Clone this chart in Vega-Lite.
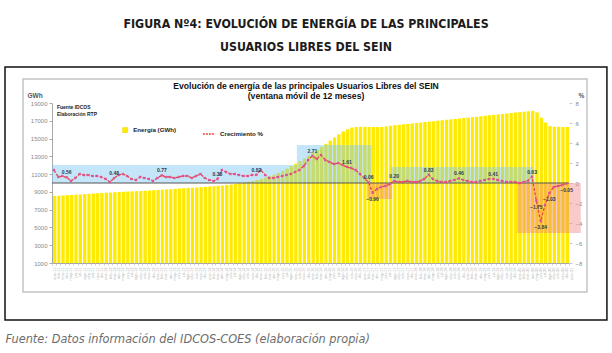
{
  "$schema": "https://vega.github.io/schema/vega-lite/v6.json",
  "width": 517,
  "height": 160,
  "autosize": {"type": "none"},
  "padding": {"left": 52, "top": 103, "right": 43, "bottom": 90},
  "background": "white",
  "title": {
    "text": ["FIGURA Nº4: EVOLUCIÓN DE ENERGÍA DE LAS PRINCIPALES", "USUARIOS LIBRES DEL SEIN"],
    "subtitle": ["Evolución de energía de las principales Usuarios Libres del SEIN", "(ventana móvil de 12 meses)"],
    "anchor": "middle",
    "frame": "group",
    "dx": -4.5,
    "offset": -34,
    "font": "'DejaVu Sans Condensed', 'Liberation Sans', sans-serif",
    "fontSize": 12.3,
    "fontWeight": "bold",
    "color": "#1b1b1b",
    "lineHeight": 23,
    "subtitleFont": "Liberation Sans",
    "subtitleFontSize": 8.6,
    "subtitleFontWeight": "bold",
    "subtitleColor": "#111111",
    "subtitleLineHeight": 9.5,
    "subtitlePadding": 29
  },
  "config": {
    "view": {"stroke": null},
    "font": "Liberation Sans"
  },
  "datasets": {
    "serie": [
      {"fecha": "2011-01-15", "energia": 8540, "crecimiento": 1.3},
      {"fecha": "2011-02-15", "energia": 8570, "crecimiento": 0.6},
      {"fecha": "2011-03-15", "energia": 8600, "crecimiento": 0.7},
      {"fecha": "2011-04-15", "energia": 8630, "crecimiento": 0.56},
      {"fecha": "2011-05-15", "energia": 8660, "crecimiento": 0.2},
      {"fecha": "2011-06-15", "energia": 8690, "crecimiento": 0.5},
      {"fecha": "2011-07-15", "energia": 8720, "crecimiento": 0.9},
      {"fecha": "2011-08-15", "energia": 8750, "crecimiento": 0.8},
      {"fecha": "2011-09-15", "energia": 8780, "crecimiento": 0.8},
      {"fecha": "2011-10-15", "energia": 8810, "crecimiento": 0.7},
      {"fecha": "2011-11-15", "energia": 8850, "crecimiento": 0.7},
      {"fecha": "2011-12-15", "energia": 8880, "crecimiento": 0.6},
      {"fecha": "2012-01-15", "energia": 8910, "crecimiento": 0.4},
      {"fecha": "2012-02-15", "energia": 8930, "crecimiento": 0.1},
      {"fecha": "2012-03-15", "energia": 8960, "crecimiento": 0.48},
      {"fecha": "2012-04-15", "energia": 8990, "crecimiento": 0.8},
      {"fecha": "2012-05-15", "energia": 9010, "crecimiento": 0.9},
      {"fecha": "2012-06-15", "energia": 9040, "crecimiento": 0.7},
      {"fecha": "2012-07-15", "energia": 9060, "crecimiento": 0.4},
      {"fecha": "2012-08-15", "energia": 9080, "crecimiento": 0.3},
      {"fecha": "2012-09-15", "energia": 9100, "crecimiento": 0.6},
      {"fecha": "2012-10-15", "energia": 9130, "crecimiento": 0.5},
      {"fecha": "2012-11-15", "energia": 9160, "crecimiento": 0.4},
      {"fecha": "2012-12-15", "energia": 9190, "crecimiento": 0.2},
      {"fecha": "2013-01-15", "energia": 9220, "crecimiento": 0.5},
      {"fecha": "2013-02-15", "energia": 9250, "crecimiento": 0.77},
      {"fecha": "2013-03-15", "energia": 9280, "crecimiento": 0.6},
      {"fecha": "2013-04-15", "energia": 9310, "crecimiento": 0.6},
      {"fecha": "2013-05-15", "energia": 9340, "crecimiento": 0.5},
      {"fecha": "2013-06-15", "energia": 9380, "crecimiento": 0.6},
      {"fecha": "2013-07-15", "energia": 9420, "crecimiento": 0.7},
      {"fecha": "2013-08-15", "energia": 9450, "crecimiento": 0.7},
      {"fecha": "2013-09-15", "energia": 9480, "crecimiento": 0.5},
      {"fecha": "2013-10-15", "energia": 9510, "crecimiento": 0.7},
      {"fecha": "2013-11-15", "energia": 9540, "crecimiento": 0.9},
      {"fecha": "2013-12-15", "energia": 9570, "crecimiento": 0.5},
      {"fecha": "2014-01-15", "energia": 9600, "crecimiento": 0.3},
      {"fecha": "2014-02-15", "energia": 9640, "crecimiento": 0.2},
      {"fecha": "2014-03-15", "energia": 9680, "crecimiento": 0.38},
      {"fecha": "2014-04-15", "energia": 9720, "crecimiento": 1.3},
      {"fecha": "2014-05-15", "energia": 9770, "crecimiento": 1.1},
      {"fecha": "2014-06-15", "energia": 9830, "crecimiento": 0.9},
      {"fecha": "2014-07-15", "energia": 9890, "crecimiento": 0.9},
      {"fecha": "2014-08-15", "energia": 9960, "crecimiento": 0.8},
      {"fecha": "2014-09-15", "energia": 10040, "crecimiento": 0.7},
      {"fecha": "2014-10-15", "energia": 10130, "crecimiento": 0.7},
      {"fecha": "2014-11-15", "energia": 10230, "crecimiento": 0.8},
      {"fecha": "2014-12-15", "energia": 10340, "crecimiento": 0.82},
      {"fecha": "2015-01-15", "energia": 10460, "crecimiento": 1.3},
      {"fecha": "2015-02-15", "energia": 10600, "crecimiento": 0.8},
      {"fecha": "2015-03-15", "energia": 10760, "crecimiento": 0.5},
      {"fecha": "2015-04-15", "energia": 10940, "crecimiento": 0.5},
      {"fecha": "2015-05-15", "energia": 11140, "crecimiento": 0.6},
      {"fecha": "2015-06-15", "energia": 11370, "crecimiento": 0.7},
      {"fecha": "2015-07-15", "energia": 11620, "crecimiento": 0.8},
      {"fecha": "2015-08-15", "energia": 11890, "crecimiento": 0.9},
      {"fecha": "2015-09-15", "energia": 12170, "crecimiento": 1.1},
      {"fecha": "2015-10-15", "energia": 12460, "crecimiento": 1.3},
      {"fecha": "2015-11-15", "energia": 12760, "crecimiento": 1.7},
      {"fecha": "2015-12-15", "energia": 13070, "crecimiento": 2.3},
      {"fecha": "2016-01-15", "energia": 13390, "crecimiento": 2.71},
      {"fecha": "2016-02-15", "energia": 13720, "crecimiento": 2.4},
      {"fecha": "2016-03-15", "energia": 14060, "crecimiento": 2.8},
      {"fecha": "2016-04-15", "energia": 14410, "crecimiento": 2.3},
      {"fecha": "2016-05-15", "energia": 14770, "crecimiento": 2.1},
      {"fecha": "2016-06-15", "energia": 15130, "crecimiento": 1.9},
      {"fecha": "2016-07-15", "energia": 15480, "crecimiento": 2.0},
      {"fecha": "2016-08-15", "energia": 15800, "crecimiento": 1.8},
      {"fecha": "2016-09-15", "energia": 16060, "crecimiento": 1.61},
      {"fecha": "2016-10-15", "energia": 16230, "crecimiento": 1.5},
      {"fecha": "2016-11-15", "energia": 16300, "crecimiento": 1.3},
      {"fecha": "2016-12-15", "energia": 16320, "crecimiento": 0.9},
      {"fecha": "2017-01-15", "energia": 16320, "crecimiento": 0.5},
      {"fecha": "2017-02-15", "energia": 16310, "crecimiento": 0.06},
      {"fecha": "2017-03-15", "energia": 16300, "crecimiento": -0.96},
      {"fecha": "2017-04-15", "energia": 16290, "crecimiento": -0.6},
      {"fecha": "2017-05-15", "energia": 16300, "crecimiento": -0.4},
      {"fecha": "2017-06-15", "energia": 16370, "crecimiento": -0.3},
      {"fecha": "2017-07-15", "energia": 16450, "crecimiento": -0.1},
      {"fecha": "2017-08-15", "energia": 16500, "crecimiento": 0.2},
      {"fecha": "2017-09-15", "energia": 16550, "crecimiento": 0.1},
      {"fecha": "2017-10-15", "energia": 16600, "crecimiento": 0.1},
      {"fecha": "2017-11-15", "energia": 16650, "crecimiento": 0.2},
      {"fecha": "2017-12-15", "energia": 16700, "crecimiento": 0.1},
      {"fecha": "2018-01-15", "energia": 16760, "crecimiento": 0.1},
      {"fecha": "2018-02-15", "energia": 16810, "crecimiento": 0.2},
      {"fecha": "2018-03-15", "energia": 16860, "crecimiento": 0.4},
      {"fecha": "2018-04-15", "energia": 16910, "crecimiento": 0.83},
      {"fecha": "2018-05-15", "energia": 16960, "crecimiento": 0.4},
      {"fecha": "2018-06-15", "energia": 17010, "crecimiento": 0.2},
      {"fecha": "2018-07-15", "energia": 17060, "crecimiento": 0.1},
      {"fecha": "2018-08-15", "energia": 17110, "crecimiento": 0.1},
      {"fecha": "2018-09-15", "energia": 17160, "crecimiento": 0.2},
      {"fecha": "2018-10-15", "energia": 17210, "crecimiento": 0.3},
      {"fecha": "2018-11-15", "energia": 17260, "crecimiento": 0.46},
      {"fecha": "2018-12-15", "energia": 17310, "crecimiento": 0.3},
      {"fecha": "2019-01-15", "energia": 17360, "crecimiento": 0.2},
      {"fecha": "2019-02-15", "energia": 17410, "crecimiento": 0.1},
      {"fecha": "2019-03-15", "energia": 17460, "crecimiento": 0.1},
      {"fecha": "2019-04-15", "energia": 17510, "crecimiento": 0.2},
      {"fecha": "2019-05-15", "energia": 17560, "crecimiento": 0.3},
      {"fecha": "2019-06-15", "energia": 17610, "crecimiento": 0.4},
      {"fecha": "2019-07-15", "energia": 17660, "crecimiento": 0.41},
      {"fecha": "2019-08-15", "energia": 17710, "crecimiento": 0.3},
      {"fecha": "2019-09-15", "energia": 17760, "crecimiento": 0.2},
      {"fecha": "2019-10-15", "energia": 17820, "crecimiento": 0.1},
      {"fecha": "2019-11-15", "energia": 17870, "crecimiento": 0.1},
      {"fecha": "2019-12-15", "energia": 17920, "crecimiento": 0.1},
      {"fecha": "2020-01-15", "energia": 17970, "crecimiento": 0.0},
      {"fecha": "2020-02-15", "energia": 18020, "crecimiento": 0.1},
      {"fecha": "2020-03-15", "energia": 18070, "crecimiento": 0.2},
      {"fecha": "2020-04-15", "energia": 18120, "crecimiento": 0.63},
      {"fecha": "2020-05-15", "energia": 17950, "crecimiento": -1.75},
      {"fecha": "2020-06-15", "energia": 17350, "crecimiento": -3.84},
      {"fecha": "2020-07-15", "energia": 16800, "crecimiento": -2.2},
      {"fecha": "2020-08-15", "energia": 16400, "crecimiento": -1.03},
      {"fecha": "2020-09-15", "energia": 16330, "crecimiento": -0.4},
      {"fecha": "2020-10-15", "energia": 16320, "crecimiento": -0.3},
      {"fecha": "2020-11-15", "energia": 16310, "crecimiento": -0.2},
      {"fecha": "2020-12-15", "energia": 16300, "crecimiento": -0.05}
    ],
    "etiquetas": [
      {"fecha": "2011-04-15", "valor": 0.56},
      {"fecha": "2012-03-15", "valor": 0.48},
      {"fecha": "2013-02-15", "valor": 0.77},
      {"fecha": "2014-03-15", "valor": 0.38},
      {"fecha": "2014-12-15", "valor": 0.82},
      {"fecha": "2016-01-15", "valor": 2.71},
      {"fecha": "2016-09-15", "valor": 1.61},
      {"fecha": "2017-02-15", "valor": 0.06},
      {"fecha": "2017-03-15", "valor": -0.96},
      {"fecha": "2017-08-15", "valor": 0.20},
      {"fecha": "2018-04-15", "valor": 0.83},
      {"fecha": "2018-11-15", "valor": 0.46},
      {"fecha": "2019-07-15", "valor": 0.41},
      {"fecha": "2020-04-15", "valor": 0.63},
      {"fecha": "2020-05-15", "valor": -1.75},
      {"fecha": "2020-06-15", "valor": -3.84},
      {"fecha": "2020-08-15", "valor": -1.03},
      {"fecha": "2020-12-15", "valor": -0.05}
    ],
    "zonas": [
      {"inicio": "2011-01-01", "fin": "2015-09-27", "desde": 0, "hasta": 1.8, "tipo": "alza"},
      {"inicio": "2015-09-27", "fin": "2017-03-09", "desde": 0, "hasta": 3.8, "tipo": "alza"},
      {"inicio": "2017-02-04", "fin": "2017-07-29", "desde": 0, "hasta": -1.6, "tipo": "baja"},
      {"inicio": "2017-07-22", "fin": "2020-04-20", "desde": 0, "hasta": 1.6, "tipo": "alza"},
      {"inicio": "2019-12-29", "fin": "2021-03-25", "desde": 0, "hasta": -5.0, "tipo": "baja"}
    ]
  },
  "resolve": {"scale": {"y": "independent"}},
  "layer": [
    {
      "layer": [
        {
          "data": {"name": "serie"},
          "mark": {"type": "bar"},
          "encoding": {
            "x": {
              "field": "fecha", "type": "temporal", "timeUnit": "utcyearmonth",
              "scale": {"type": "utc", "domain": ["2011-01-01", "2021-01-01"], "nice": false},
              "title": "Fuente: Datos información del IDCOS-COES (elaboración propia)",
              "axis": {
                "tickCount": {"interval": "month", "step": 1},
                "labelExpr": "['ene','feb','mar','abr','may','jun','jul','ago','sep','oct','nov','dic'][utcmonth(datum.value)] + '-' + utcFormat(datum.value, '%y')",
                "labelAngle": 270, "labelFontSize": 4, "labelColor": "#b4b4b4", "labelOverlap": false, "labelFlush": false,
                "labelPadding": 2, "labelOffset": 2, "tickSize": 2, "tickColor": "#d0d0d0", "domainColor": "#a8a8a8", "grid": false,
                "titleFont": "'Liberation Sans Narrow', 'DejaVu Sans Condensed', 'Liberation Sans', sans-serif", "titleFontStyle": "italic", "titleFontWeight": "normal", "titleFontSize": 12.6,
                "titleColor": "#6d6d6d", "titleAnchor": "start", "titleAlign": "left", "titleBaseline": "alphabetic", "titleX": -47, "titleY": 79
              }
            },
            "y": {
              "field": "energia", "type": "quantitative",
              "scale": {"domain": [1000, 19000], "nice": false, "zero": false},
              "title": "GWh",
              "axis": {
                "values": [1000, 3000, 5000, 7000, 9000, 11000, 13000, 15000, 17000, 19000],
                "tickCount": 30,
                "format": "d", "labelFontSize": 6, "labelColor": "#8a8a8a", "labelPadding": 2, "labelOverlap": false, "tickSize": 3, "tickColor": "#aaaaaa",
                "domainColor": "#aaaaaa", "grid": false,
                "titleAngle": 0, "titleAlign": "left", "titleBaseline": "alphabetic", "titleX": -25, "titleY": -6,
                "titleFontSize": 6.5, "titleFontWeight": "bold", "titleColor": "#555555"
              }
            },
            "y2": {"datum": 1000},
            "fill": {
              "datum": "Energía (GWh)",
              "scale": {"range": ["#FFEB00"]},
              "legend": {
                "orient": "none", "legendX": 70, "legendY": 24, "title": null, "symbolType": "square", "symbolSize": 25,
                "symbolStrokeColor": "#E6CF00", "symbolStrokeWidth": 0.5,
                "labelFont": "Liberation Sans", "labelFontSize": 6.2, "labelFontWeight": "bold", "labelColor": "#222222", "labelOffset": 5
              }
            }
          }
        },
        {
          "data": {"values": [{}]},
          "mark": {"type": "text", "align": "left", "baseline": "alphabetic", "fontSize": 5, "fontWeight": "bold", "color": "#222222", "lineHeight": 7},
          "encoding": {
            "x": {"datum": 1296864000000, "type": "temporal"},
            "y": {"datum": 18300, "type": "quantitative"},
            "text": {"value": ["Fuente IDCOS", "Elaboración RTP"]}
          }
        }
      ]
    },
    {
      "layer": [
        {
          "data": {"name": "zonas"},
          "mark": {"type": "rect"},
          "encoding": {
            "x": {"field": "inicio", "type": "temporal"},
            "x2": {"field": "fin"},
            "y": {
              "field": "desde", "type": "quantitative",
              "scale": {"domain": [-8, 8], "nice": false, "zero": false},
              "title": "%",
              "axis": {
                "orient": "right", "values": [-8, -6, -4, -2, 0, 2, 4, 6, 8],
                "tickCount": 30, "format": "d",
                "labelFontSize": 6, "labelColor": "#8a8a8a", "labelPadding": 3, "labelOverlap": false, "tickSize": 3, "tickColor": "#cccccc",
                "domain": false, "grid": false,
                "titleAngle": 0, "titleAlign": "left", "titleBaseline": "alphabetic", "titleX": 9, "titleY": -6,
                "titleFontSize": 6.5, "titleFontWeight": "bold", "titleColor": "#555555"
              }
            },
            "y2": {"field": "hasta"},
            "fill": {"condition": {"test": "datum.tipo === 'baja'", "value": "#F08080"}, "value": "#7EC8F0"},
            "fillOpacity": {"condition": {"test": "datum.tipo === 'baja'", "value": 0.42}, "value": 0.45}
          }
        },
        {
          "data": {"values": [{}]},
          "mark": {"type": "rect", "fillOpacity": 0, "stroke": "#c4c4c4", "strokeWidth": 1.5},
          "encoding": {
            "x": {"datum": 1276128000000, "type": "temporal"},
            "x2": {"datum": 1620432000000},
            "y": {"datum": 10.4, "type": "quantitative"},
            "y2": {"datum": -10.9}
          }
        },
        {
          "data": {"values": [{}]},
          "mark": {"type": "rect", "fillOpacity": 0, "stroke": "#111111", "strokeWidth": 1.5},
          "encoding": {
            "x": {"datum": 1265155200000, "type": "temporal"},
            "x2": {"datum": 1632614400000},
            "y": {"datum": 11.6, "type": "quantitative"},
            "y2": {"datum": -13.7}
          }
        },
        {
          "data": {"values": [{}]},
          "mark": {"type": "rule", "color": "#555555", "strokeWidth": 1},
          "encoding": {
            "x": {"datum": 1293840000000, "type": "temporal"},
            "x2": {"datum": 1609459200000},
            "y": {"datum": 0, "type": "quantitative"}
          }
        },
        {
          "data": {"name": "serie"},
          "mark": {"type": "line", "strokeWidth": 1.3, "strokeDash": [3, 1.5]},
          "encoding": {
            "x": {"field": "fecha", "type": "temporal"},
            "y": {"field": "crecimiento", "type": "quantitative"},
            "stroke": {
              "datum": "Crecimiento %",
              "scale": {"range": ["#E8453C"]},
              "legend": {
                "orient": "none", "legendX": 150, "legendY": 24, "title": null, "symbolType": "stroke", "symbolSize": 150,
                "symbolStrokeWidth": 1.3, "symbolDash": [2, 1],
                "labelFont": "Liberation Sans", "labelFontSize": 6.2, "labelFontWeight": "bold", "labelColor": "#222222", "labelOffset": 4
              }
            }
          }
        },
        {
          "data": {"name": "serie"},
          "mark": {"type": "point", "shape": "cross", "filled": true, "size": 8, "color": "#E0509A", "opacity": 1, "angle": 45},
          "encoding": {
            "x": {"field": "fecha", "type": "temporal"},
            "y": {"field": "crecimiento", "type": "quantitative"}
          }
        },
        {
          "data": {"name": "etiquetas"},
          "transform": [{"filter": "datum.valor >= 0"}],
          "mark": {"type": "text", "fontSize": 5, "fontWeight": "bold", "color": "#2b3a55", "dy": -5},
          "encoding": {
            "x": {"field": "fecha", "type": "temporal"},
            "y": {"field": "valor", "type": "quantitative"},
            "text": {"field": "valor", "type": "quantitative", "format": ".2f"}
          }
        },
        {
          "data": {"name": "etiquetas"},
          "transform": [{"filter": "datum.valor < 0"}],
          "mark": {"type": "text", "fontSize": 5, "fontWeight": "bold", "color": "#2b3a55", "dy": 6},
          "encoding": {
            "x": {"field": "fecha", "type": "temporal"},
            "y": {"field": "valor", "type": "quantitative"},
            "text": {"field": "valor", "type": "quantitative", "format": ".2f"}
          }
        }
      ]
    }
  ]
}
